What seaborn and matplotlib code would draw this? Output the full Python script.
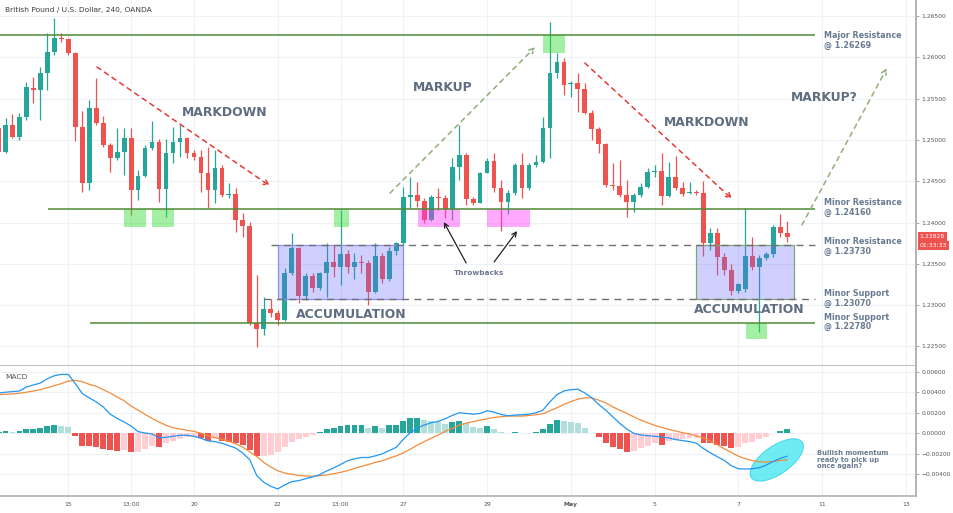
import matplotlib
matplotlib.use("Agg")
import matplotlib.pyplot as plt
import matplotlib.transforms as mtransforms
from matplotlib.patches import Rectangle, Ellipse
from matplotlib.ticker import FuncFormatter
import numpy as np
import pandas as pd
import seaborn as sns

sns.set_theme(style="white")
plt.rcParams['font.family'] = ['DejaVu Sans']
plt.rcParams['axes.unicode_minus'] = True

# ---------------- data (4h bars, index 0 = start of 15 April) ----------------
FIRST_BAR = -10
opens = [
    1.25140, 1.24858, 1.25181, 1.25031, 1.25273, 1.25633, 1.25604, 1.25806, 1.26069, 1.26238,
    1.26218, 1.26056, 1.25152, 1.24482, 1.25382, 1.25209, 1.24938, 1.24777, 1.24858, 1.25019,
    1.24394, 1.24567, 1.24898, 1.24971, 1.24402, 1.24838, 1.24979, 1.25019, 1.24846, 1.24797,
    1.24595, 1.24394, 1.24656, 1.24333, 1.24345, 1.24030, 1.23958, 1.22779, 1.22711, 1.22949,
    1.22900, 1.22820, 1.23385, 1.23687, 1.23110, 1.23352, 1.23211, 1.23385, 1.23518, 1.23465,
    1.23615, 1.23465, 1.23518, 1.23506, 1.23163, 1.23594, 1.23312, 1.23659, 1.23748, 1.24305,
    1.24333, 1.24264, 1.24030, 1.24305, 1.24301, 1.24159, 1.24676, 1.24817, 1.24285, 1.24240,
    1.24603, 1.24745, 1.24414, 1.24244, 1.24353, 1.24696, 1.24422, 1.24696, 1.24737, 1.25140,
    1.25806, 1.25947, 1.25677, 1.25693, 1.25612, 1.25330, 1.25128, 1.24951, 1.24454, 1.24442,
    1.24333, 1.24244, 1.24333, 1.24434, 1.24612, 1.24624, 1.24321, 1.24555, 1.24414, 1.24353,
    1.24365, 1.24353, 1.23748, 1.23877, 1.23578, 1.23425, 1.23175, 1.23190, 1.23594, 1.23465,
    1.23566, 1.23615, 1.23942, 1.23877,
]
highs = [
    1.25181, 1.25261, 1.25314, 1.25330, 1.25705, 1.25766, 1.25887, 1.26299, 1.26472, 1.26299,
    1.26238, 1.26069, 1.25354, 1.25483, 1.25746, 1.25290, 1.24959, 1.25140, 1.25140, 1.25140,
    1.24636, 1.24938, 1.25229, 1.25007, 1.25007, 1.25160, 1.25181, 1.25039, 1.24878, 1.24878,
    1.24918, 1.24878, 1.24696, 1.24482, 1.24414, 1.24111, 1.24010, 1.23364, 1.23102, 1.23070,
    1.22941, 1.23445, 1.23869, 1.23707, 1.23385, 1.23385, 1.23405, 1.23748, 1.23728, 1.24151,
    1.23667, 1.23627, 1.23607, 1.23546, 1.23748, 1.23627, 1.23707, 1.23768, 1.24434, 1.24555,
    1.24495, 1.24293, 1.24333, 1.24414, 1.24333, 1.24777, 1.25181, 1.24838, 1.24313, 1.24616,
    1.24777, 1.24846, 1.24515, 1.24394, 1.24716, 1.24846, 1.24716, 1.24817, 1.25282, 1.26432,
    1.26048, 1.25988, 1.25717, 1.25806, 1.25685, 1.25362, 1.25160, 1.24967, 1.24716, 1.24757,
    1.24515, 1.24353, 1.24474, 1.24656, 1.24696, 1.24838, 1.24737, 1.24805, 1.24495, 1.24495,
    1.24394, 1.24507, 1.23929, 1.23929, 1.23635, 1.23498, 1.23272, 1.24172, 1.23829, 1.23607,
    1.23647, 1.23970, 1.24103, 1.24018,
]
lows = [
    1.24838, 1.24846, 1.25019, 1.24999, 1.25241, 1.25443, 1.25241, 1.25604, 1.26028, 1.26190,
    1.26028, 1.24991, 1.24373, 1.24394, 1.25181, 1.24918, 1.24608, 1.24757, 1.24575, 1.24091,
    1.24272, 1.24555, 1.24878, 1.24252, 1.24071, 1.24716, 1.24797, 1.24777, 1.24757, 1.24373,
    1.24172, 1.24232, 1.24305, 1.24293, 1.23889, 1.23829, 1.22759, 1.22497, 1.22638, 1.22860,
    1.22759, 1.22811, 1.23364, 1.23021, 1.23062, 1.23163, 1.23183, 1.23102, 1.23344, 1.23243,
    1.23385, 1.23312, 1.23385, 1.23001, 1.23142, 1.23264, 1.23296, 1.23607, 1.23728, 1.24172,
    1.24192, 1.23990, 1.24022, 1.24151, 1.24051, 1.24030, 1.24515, 1.24212, 1.24212, 1.24232,
    1.24595, 1.24373, 1.23897, 1.24103, 1.24333, 1.24301, 1.24394, 1.24676, 1.24725, 1.24777,
    1.25746, 1.25544, 1.25516, 1.25342, 1.25314, 1.24999, 1.24838, 1.24434, 1.24394, 1.24313,
    1.24063, 1.24131, 1.24313, 1.24414, 1.24555, 1.24212, 1.24305, 1.24394, 1.24321, 1.24345,
    1.24333, 1.23594, 1.23667, 1.23364, 1.23364, 1.23122, 1.23142, 1.23163, 1.23425, 1.22678,
    1.23546, 1.23586, 1.23829, 1.23768,
]
closes = [
    1.24858, 1.25181, 1.25031, 1.25282, 1.25637, 1.25604, 1.25806, 1.26069, 1.26238, 1.26218,
    1.26056, 1.25152, 1.24482, 1.25382, 1.25209, 1.24938, 1.24777, 1.24858, 1.25019, 1.24394,
    1.24567, 1.24898, 1.24971, 1.24402, 1.24838, 1.24979, 1.25019, 1.24846, 1.24797, 1.24595,
    1.24394, 1.24656, 1.24333, 1.24345, 1.24030, 1.23958, 1.22779, 1.22711, 1.22949, 1.22900,
    1.22820, 1.23385, 1.23687, 1.23110, 1.23352, 1.23211, 1.23385, 1.23518, 1.23465, 1.23615,
    1.23465, 1.23518, 1.23506, 1.23163, 1.23594, 1.23312, 1.23659, 1.23748, 1.24305, 1.24333,
    1.24264, 1.24030, 1.24305, 1.24293, 1.24159, 1.24676, 1.24817, 1.24285, 1.24240, 1.24603,
    1.24745, 1.24414, 1.24244, 1.24353, 1.24696, 1.24422, 1.24696, 1.24737, 1.25140, 1.25806,
    1.25947, 1.25665, 1.25693, 1.25612, 1.25330, 1.25128, 1.24951, 1.24454, 1.24442, 1.24333,
    1.24244, 1.24333, 1.24434, 1.24616, 1.24624, 1.24321, 1.24555, 1.24414, 1.24345, 1.24365,
    1.24353, 1.23748, 1.23877, 1.23578, 1.23425, 1.23175, 1.23255, 1.23594, 1.23465, 1.23566,
    1.23615, 1.23942, 1.23877, 1.23828,
]
macd_hist = [
    0.00010, 0.00023, 0.00010, 0.00019, 0.00039, 0.00042, 0.00055, 0.00074, 0.00081, 0.00074,
    0.00061, -0.00023, -0.00120, -0.00122, -0.00129, -0.00155, -0.00166, -0.00168, -0.00165, -0.00184,
    -0.00178, -0.00155, -0.00128, -0.00136, -0.00097, -0.00074, -0.00055, -0.00039, -0.00032, -0.00048,
    -0.00071, -0.00048, -0.00074, -0.00081, -0.00097, -0.00113, -0.00162, -0.00220, -0.00218, -0.00210,
    -0.00187, -0.00136, -0.00081, -0.00058, -0.00039, -0.00016, 0.00016, 0.00042, 0.00052, 0.00074,
    0.00078, 0.00081, 0.00082, 0.00055, 0.00071, 0.00055, 0.00078, 0.00081, 0.00123, 0.00145,
    0.00146, 0.00129, 0.00120, 0.00110, 0.00095, 0.00113, 0.00123, 0.00097, 0.00058, 0.00055,
    0.00071, 0.00039, 0.00016, 0.00006, 0.00013, 0.00002, 0.00006, 0.00010, 0.00039, 0.00090,
    0.00129, 0.00120, 0.00113, 0.00103, 0.00055, 0.00006, -0.00039, -0.00090, -0.00129, -0.00155,
    -0.00178, -0.00168, -0.00145, -0.00120, -0.00097, -0.00113, -0.00074, -0.00065, -0.00055, -0.00048,
    -0.00042, -0.00090, -0.00097, -0.00113, -0.00123, -0.00145, -0.00136, -0.00097, -0.00081, -0.00055,
    -0.00032, 0.00006, 0.00023, 0.00039,
]
macd_line = [
    0.00394, 0.00401, 0.00407, 0.00413, 0.00452, 0.00472, 0.00491, 0.00533, 0.00562, 0.00575,
    0.00575, 0.00485, 0.00388, 0.00346, 0.00307, 0.00258, 0.00187, 0.00145, 0.00110, 0.00071,
    0.00016, 0.00003, -0.00006, -0.00045, -0.00039, -0.00029, -0.00019, -0.00019, -0.00029, -0.00048,
    -0.00074, -0.00081, -0.00097, -0.00120, -0.00145, -0.00194, -0.00258, -0.00413, -0.00478, -0.00517,
    -0.00543, -0.00504, -0.00472, -0.00462, -0.00443, -0.00426, -0.00404, -0.00368, -0.00339, -0.00304,
    -0.00268, -0.00249, -0.00236, -0.00236, -0.00220, -0.00200, -0.00168, -0.00136, -0.00058, 0.00006,
    0.00052, 0.00081, 0.00103, 0.00116, 0.00142, 0.00174, 0.00200, 0.00194, 0.00187, 0.00194,
    0.00220, 0.00207, 0.00184, 0.00171, 0.00178, 0.00181, 0.00187, 0.00200, 0.00226, 0.00307,
    0.00378, 0.00413, 0.00426, 0.00430, 0.00394, 0.00346, 0.00281, 0.00226, 0.00162, 0.00097,
    0.00042, 0.00000, -0.00016, -0.00023, -0.00029, -0.00036, -0.00045, -0.00061, -0.00071, -0.00081,
    -0.00097, -0.00149, -0.00191, -0.00229, -0.00265, -0.00317, -0.00346, -0.00349, -0.00346, -0.00336,
    -0.00310, -0.00275, -0.00245, -0.00223,
]
signal_line = [
    0.00378, 0.00381, 0.00384, 0.00391, 0.00401, 0.00413, 0.00426, 0.00446, 0.00465, 0.00485,
    0.00510, 0.00517, 0.00504, 0.00478, 0.00459, 0.00426, 0.00394, 0.00355, 0.00317, 0.00265,
    0.00226, 0.00184, 0.00145, 0.00110, 0.00078, 0.00055, 0.00042, 0.00029, 0.00019, 0.00000,
    -0.00023, -0.00042, -0.00058, -0.00078, -0.00103, -0.00136, -0.00181, -0.00226, -0.00284, -0.00329,
    -0.00365, -0.00388, -0.00401, -0.00410, -0.00417, -0.00420, -0.00413, -0.00407, -0.00394, -0.00381,
    -0.00365, -0.00342, -0.00323, -0.00304, -0.00284, -0.00268, -0.00242, -0.00220, -0.00191, -0.00155,
    -0.00116, -0.00081, -0.00048, -0.00016, 0.00019, 0.00048, 0.00078, 0.00100, 0.00113, 0.00129,
    0.00142, 0.00155, 0.00162, 0.00168, 0.00168, 0.00168, 0.00174, 0.00181, 0.00191, 0.00220,
    0.00249, 0.00281, 0.00310, 0.00333, 0.00346, 0.00346, 0.00323, 0.00297, 0.00258, 0.00226,
    0.00194, 0.00162, 0.00129, 0.00103, 0.00078, 0.00058, 0.00039, 0.00023, 0.00006, -0.00006,
    -0.00026, -0.00045, -0.00078, -0.00113, -0.00152, -0.00187, -0.00223, -0.00249, -0.00265, -0.00278,
    -0.00281, -0.00275, -0.00265, -0.00258,
]

tick_pos = [0, 9, 18, 30, 39, 48, 60, 72, 84, 96, 108, 120]
tick_labels = ["15", "13:00", "20", "22", "13:00", "27", "29", "May", "5", "7", "11", "13"]
price_ticks = [1.225, 1.230, 1.235, 1.240, 1.245, 1.250, 1.255, 1.260, 1.265]
macd_ticks = [-0.004, -0.002, 0.0, 0.002, 0.004, 0.006]

levels = [
    ("Major Resistance\n@ 1.26269", 1.26269, -9.8, 107.0, "solid", 1.26203),
    ("Minor Resistance\n@ 1.24160", 1.24160, -2.9, 107.0, "solid", 1.24182),
    ("Minor Resistance\n@ 1.23730", 1.23730, 29.0, 107.0, "dashed", 1.23709),
    ("Minor Support\n@ 1.23070", 1.23070, 28.0, 107.0, "dashed", 1.23080),
    ("Minor Support\n@ 1.22780", 1.22780, 3.1, 107.0, "solid", 1.22795),
]
green_zones = [(8.0, 11.1, 1.23950, 1.24160), (12.0, 15.1, 1.23950, 1.24160),
               (38.1, 40.2, 1.23950, 1.24160), (68.0, 71.1, 1.26048, 1.26269),
               (97.1, 100.1, 1.22586, 1.22780)]
pink_zones = [(50.1, 56.1, 1.23950, 1.24160), (60.0, 66.1, 1.23950, 1.24160)]
accum_zones = [(30.1, 47.95, 1.23070, 1.23730, "#8c8ff0"), (90.0, 104.0, 1.23070, 1.23730, "#7aa57a")]
phase_labels = [("MARKDOWN", 22.45, 1.25338), ("MARKUP", 53.7, 1.25640),
                ("MARKDOWN", 91.5, 1.25217), ("MARKUP?", 108.3, 1.25519),
                ("ACCUMULATION", 40.5, 1.22892), ("ACCUMULATION", 97.5, 1.22953)]
trend_arrows = [((4.1, 1.25883), (28.9, 1.24442), "#e53935"),
                ((46.1, 1.24357), (66.9, 1.26125), "#8fae7a"),
                ((74.0, 1.25931), (95.1, 1.24284), "#e53935"),
                ((105.1, 1.23970), (117.3, 1.25870), "#8fae7a")]

bars = np.arange(FIRST_BAR, FIRST_BAR + len(closes))
df = pd.DataFrame({"bar": bars, "open": opens, "high": highs, "low": lows, "close": closes,
                   "hist": macd_hist, "macd": macd_line, "signal": signal_line})

# ---------------- figure ----------------
W, H = 954, 513
fig = plt.figure(figsize=(W / 100, H / 100), dpi=100)
fig.patch.set_facecolor("white")
ax = fig.add_axes([0, 1 - 366 / H, 916 / W, 366 / H])
ax2 = fig.add_axes([0, 1 - 496 / H, 916 / W, 130 / H], sharex=ax)

XMIN, XMAX = -9.79, 121.45
YMIN, YMAX = 1.22263, 1.26694
MMIN, MMAX = -0.00612, 0.00657

grid_c = "#eef1f7"
for a in (ax, ax2):
    a.set_facecolor("white")
    a.set_axisbelow(True)
    for t in tick_pos:
        a.axvline(t, color=grid_c, lw=0.8, zorder=0)
for p in price_ticks:
    ax.axhline(p, color=grid_c, lw=0.8, zorder=0)
for m in macd_ticks:
    ax2.axhline(m, color=grid_c, lw=0.8, zorder=0)

UP, DN = "#26a69a", "#ef5350"
cols = [UP if c >= o else DN for o, c in zip(df["open"], df["close"])]
ax.vlines(df["bar"], df["low"], df["high"], colors=cols, lw=0.9, zorder=2)
body_lo = np.minimum(df["open"], df["close"])
body_h = np.maximum((df["close"] - df["open"]).abs(), 0.00004)
ax.bar(df["bar"], body_h, bottom=body_lo, width=0.68, color=cols, linewidth=0, zorder=3)

# zones
for x0, x1, y0, y1, ec in accum_zones:
    ax.add_patch(Rectangle((x0, y0), x1 - x0, y1 - y0, facecolor="#6464ff", alpha=0.3,
                           edgecolor="none", zorder=4))
    ax.add_patch(Rectangle((x0, y0), x1 - x0, y1 - y0, facecolor="none",
                           edgecolor=ec, lw=0.9, zorder=4))
for x0, x1, y0, y1 in green_zones:
    ax.add_patch(Rectangle((x0, y0), x1 - x0, y1 - y0, facecolor="#33dd33", alpha=0.45,
                           edgecolor="none", zorder=4))
for x0, x1, y0, y1 in pink_zones:
    ax.add_patch(Rectangle((x0, y0), x1 - x0, y1 - y0, facecolor="#ff33ff", alpha=0.42,
                           edgecolor="none", zorder=4))

# levels
for label, lvl, x0, x1, style, ty in levels:
    if style == "solid":
        ax.hlines(lvl, x0, x1, color="#4f8a35", lw=1.1, zorder=5)
    else:
        ax.hlines(lvl, x0, x1, color="#6f6f6f", lw=1.0, linestyles=(0, (5, 4)), zorder=5)
    ax.text(108.3, ty, label, ha="left", va="center", fontsize=5.8, fontweight="bold",
            color="#687a90", linespacing=1.05, zorder=6)

# trend arrows
for (xs, ys), (xe, ye), c in trend_arrows:
    ax.annotate("", xy=(xe, ye), xytext=(xs, ys),
                arrowprops=dict(arrowstyle="->", color=c, lw=1.1, linestyle=(0, (3, 3)),
                                shrinkA=0, shrinkB=0, mutation_scale=9), zorder=6)

for txt, x, y in phase_labels:
    ax.text(x, y, txt, ha="center", va="center", fontsize=8.9, fontweight="bold",
            color="#5e6d80", zorder=7)

# throwbacks
ax.text(58.8, 1.23389, "Throwbacks", ha="center", va="center", fontsize=5.3,
        fontweight="bold", color="#6b7890", zorder=7)
for (xs, ys), (xe, ye) in [((57.0, 1.23510), (53.8, 1.24006)), ((61.0, 1.23522), (64.3, 1.23897))]:
    ax.annotate("", xy=(xe, ye), xytext=(xs, ys),
                arrowprops=dict(arrowstyle="->", color="#222222", lw=0.9,
                                shrinkA=0, shrinkB=0, mutation_scale=8), zorder=7)

ax.text(5 / 916, 1 - 10 / 366, "British Pound / U.S. Dollar, 240, OANDA", transform=ax.transAxes,
        ha="left", va="center", fontsize=5.4, color="#3d3d3d", zorder=8)

# price tag
btrans = mtransforms.blended_transform_factory(ax.transAxes, ax.transData)
ax.text(1.004, 1.23835, "1.23828", transform=btrans, ha="left", va="center", fontsize=4.4,
        color="white", clip_on=False,
        bbox=dict(boxstyle="square,pad=0.35", fc="#ef5350", ec="none"), zorder=9)
ax.text(1.004, 1.23722, "01:33:33", transform=btrans, ha="left", va="center", fontsize=4.4,
        color="white", clip_on=False,
        bbox=dict(boxstyle="square,pad=0.35", fc="#ef5350", ec="none"), zorder=9)

# ---------------- MACD ----------------
hist_cols = []
prev = None
for v in df["hist"]:
    p = v if prev is None else prev
    if v >= 0:
        hist_cols.append("#26a69a" if v >= p else "#b2dfdb")
    else:
        hist_cols.append("#ef5350" if v < p else "#ffcdd2")
    prev = v
ax2.bar(df["bar"], df["hist"], width=0.85, color=hist_cols, linewidth=0, zorder=2)
sns.lineplot(data=df, x="bar", y="signal", ax=ax2, color="#f28c3c", linewidth=0.9, zorder=4)
sns.lineplot(data=df, x="bar", y="macd", ax=ax2, color="#2196f3", linewidth=0.9, zorder=5)
ax2.text(5 / 916, 1 - 11 / 130, "MACD", transform=ax2.transAxes, ha="left", va="center",
         fontsize=5.4, color="#555555")
ax2.text(107.3, -0.0026, "Bullish momentum\nready to pick up\nonce again?", ha="left",
         va="center", fontsize=4.9, fontweight="bold", color="#6a7b8f", linespacing=1.1)

# ---------------- axes styling ----------------
ax.set_xlim(XMIN, XMAX)
ax.set_ylim(YMIN, YMAX)
ax2.set_xlim(XMIN, XMAX)
ax2.set_ylim(MMIN, MMAX)
ax.set_xlabel("")
ax.set_ylabel("")
ax2.set_xlabel("")
ax2.set_ylabel("")

ax.yaxis.tick_right()
ax.set_yticks(price_ticks)
ax.yaxis.set_major_formatter(FuncFormatter(lambda v, _: f"{v:.5f}"))
ax2.yaxis.tick_right()
ax2.set_yticks(macd_ticks)
ax2.yaxis.set_major_formatter(FuncFormatter(lambda v, _: f"{v:.5f}".replace("-", "\u2212") if abs(v) > 1e-12 else "0.00000"))
for a in (ax, ax2):
    a.tick_params(axis="y", labelsize=4.3, length=2, width=0.6, color="#999999",
                  pad=2, labelcolor="#555555", right=True, left=False)
ax.tick_params(axis="x", labelbottom=False, length=0)
ax2.set_xticks(tick_pos)
ax2.set_xticklabels(tick_labels)
ax2.tick_params(axis="x", labelsize=4.4, length=0, pad=4, labelcolor="#555555")
for lbl in ax2.get_xticklabels():
    if lbl.get_text() == "May":
        lbl.set_fontweight("bold")

for a in (ax, ax2):
    a.spines["left"].set_visible(False)
    a.spines["top"].set_visible(False)
    a.spines["right"].set_color("#b0b3b8")
    a.spines["right"].set_linewidth(1.4)
    a.spines["bottom"].set_color("#b0b3b8")
    a.spines["bottom"].set_linewidth(1.2)

# ellipse highlighting the crossover (pixel-sized shape anchored at a data point)
cx, cy = ax2.transData.transform((101.5, -0.0026))
ell = Ellipse((0, 0), width=62, height=28, angle=35, facecolor="#3fe6f0", alpha=0.75,
              edgecolor="#2fd0e0", lw=0.8, zorder=3)
ell.set_transform(mtransforms.Affine2D().translate(cx, cy))
ax2.add_patch(ell)

fig.savefig("out.png", dpi=100, facecolor="white")
